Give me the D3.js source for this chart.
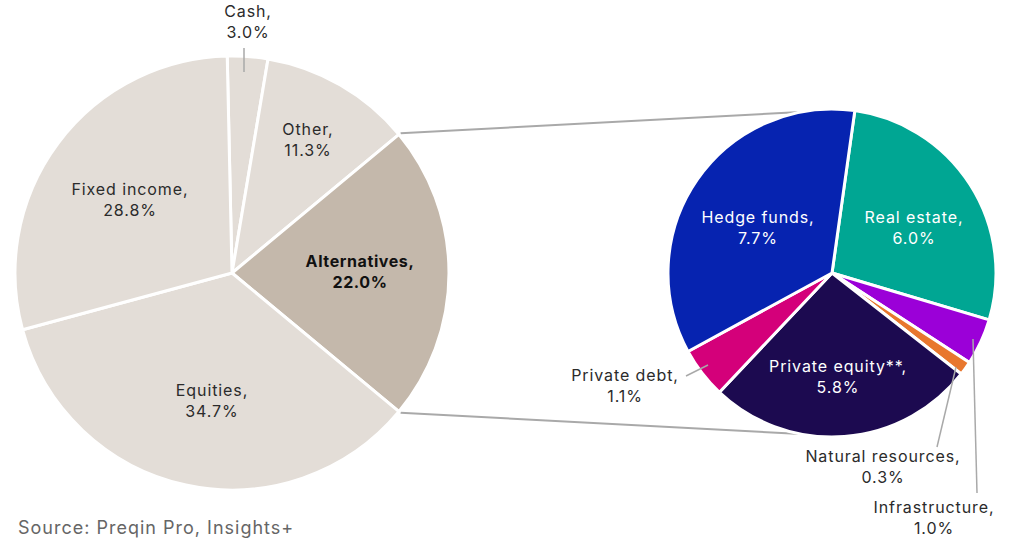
<!DOCTYPE html>
<html>
<head>
<meta charset="utf-8">
<script src="https://cdn.jsdelivr.net/npm/d3@7"></script>
<style>
  body { margin: 0; background: #fff; }
  svg { font-family: "Inter", "Noto Sans", sans-serif; }
</style>
</head>
<body>
<svg id="chart" width="1024" height="557"></svg>
<script>
// data
const mainLabels = ["Cash", "Other", "Alternatives", "Equities", "Fixed income"];
const mainValues = [3.0, 11.3, 22.0, 34.7, 28.8];

const altLabels = ["Real estate", "Infrastructure", "Natural resources", "Private equity**", "Private debt", "Hedge funds"];
const altValues = [6.0, 1.0, 0.3, 5.8, 1.1, 7.7];
const altColors = ["#00a693", "#9b00d8", "#e8772e", "#1c0a50", "#d4007a", "#0623b0"];

const svg = d3.select("#chart");
const deg = Math.PI / 180;

// left pie / right pie
const L = { cx: 232, cy: 273, r: 217 };
const R = { cx: 832, cy: 273, r: 164 };

// rotate so that Alternatives is centred at 3 o'clock
const total = d3.sum(mainValues);
const before = mainValues[0] + mainValues[1] + mainValues[2] / 2;
const startMain = Math.PI / 2 - before / total * 2 * Math.PI;

const pieMain = d3.pie().sort(null).startAngle(startMain).endAngle(startMain + 2 * Math.PI);
const arcsMain = pieMain(mainValues);
const arcL = d3.arc().innerRadius(0).outerRadius(L.r);

const pieAlt = d3.pie().sort(null).startAngle(8 * deg).endAngle(8 * deg + 2 * Math.PI);
const arcsAlt = pieAlt(altValues);
const arcR = d3.arc().innerRadius(0).outerRadius(R.r);

// point on a circle, angle clockwise from 12 o'clock
function pt(c, a, r) {
    return [c.cx + Math.sin(a) * r, c.cy - Math.cos(a) * r];
}

// connector lines (behind the pies)
const alt = arcsMain[2];
const conn = [
    [pt(L, alt.startAngle, L.r + 2), pt(R, -11 * deg, R.r)],
    [pt(L, alt.endAngle, L.r + 2), pt(R, 191 * deg, R.r)]
];
svg.append("g").selectAll("line")
    .data(conn)
    .enter()
    .append("line")
    .attr("x1", d => d[0][0]).attr("y1", d => d[0][1])
    .attr("x2", d => d[1][0]).attr("y2", d => d[1][1])
    .style("stroke", "#a9a9a9")
    .style("stroke-width", 2);

const gL = svg.append("g").attr("transform", `translate(${L.cx},${L.cy})`);
gL.selectAll("path")
    .data(arcsMain)
    .enter()
    .append("path")
    .attr("d", arcL)
    .style("fill", (d, i) => i === 2 ? "#c4b8ab" : "#e3ddd7")
    .style("stroke", "#fff")
    .style("stroke-width", 3)
    .style("stroke-linejoin", "round");

const gR = svg.append("g").attr("transform", `translate(${R.cx},${R.cy})`);
gR.selectAll("path")
    .data(arcsAlt)
    .enter()
    .append("path")
    .attr("d", arcR)
    .style("fill", (d, i) => altColors[i])
    .style("stroke", "#fff")
    .style("stroke-width", 3)
    .style("stroke-linejoin", "round");

// labels: [x, y of first baseline] for each slice
const mainLabelPos = [[248, 17], [308, 135], [360, 267], [212, 396], [130, 195]];
const altLabelPos = [[914, 223], [934, 513], [883, 462], [838, 372], [625, 381], [758, 223]];
const altInside = [true, false, false, true, false, true];

function addLabel(x, y, name, value, color, bold) {
    const t = svg.append("text")
        .attr("text-anchor", "middle")
        .style("font-size", "16px")
        .style("letter-spacing", bold ? "0.6px" : "0.9px")
        .style("fill", color)
        .style("font-weight", bold ? 700 : 400);
    t.append("tspan").attr("x", x).attr("y", y).text(name + ",");
    t.append("tspan").attr("x", x).attr("y", y + 21).text(value.toFixed(1) + "%");
}

mainLabels.forEach((n, i) => {
    addLabel(mainLabelPos[i][0], mainLabelPos[i][1], n, mainValues[i], i === 2 ? "#111" : "#2b2b2b", i === 2);
});
altLabels.forEach((n, i) => {
    addLabel(altLabelPos[i][0], altLabelPos[i][1], n, altValues[i], altInside[i] ? "#fff" : "#2b2b2b", false);
});

// leader lines for small slices
const leaders = [
    [[244, 48], [244, 72]],
    [[686, 376], [708, 365]],
    [[937, 447], [956, 367]],
    [[977, 493], [973, 339]]
];
svg.append("g").selectAll("line")
    .data(leaders)
    .enter()
    .append("line")
    .attr("x1", d => d[0][0]).attr("y1", d => d[0][1])
    .attr("x2", d => d[1][0]).attr("y2", d => d[1][1])
    .style("stroke", "#a9a9a9")
    .style("stroke-width", 1.5);

svg.append("text")
    .attr("x", 18)
    .attr("y", 534)
    .style("font-size", "18px")
    .style("letter-spacing", "1px")
    .style("fill", "#666")
    .text("Source: Preqin Pro, Insights+");
</script>
</body>
</html>
